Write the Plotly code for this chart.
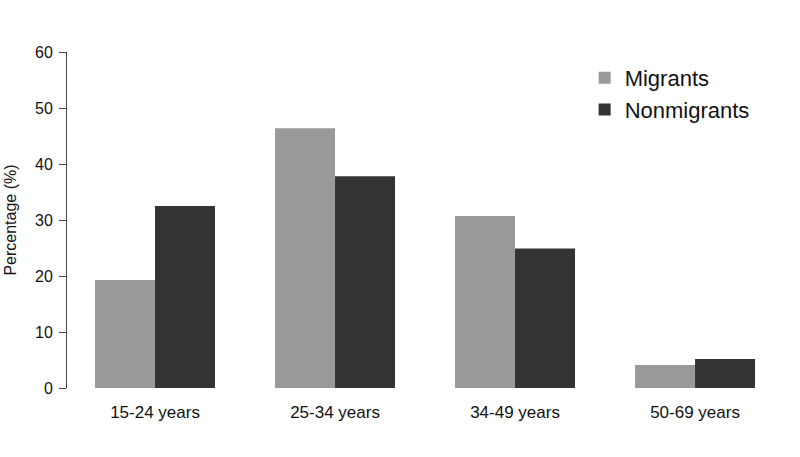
import plotly.graph_objects as go

categories = ["15-24 years", "25-34 years", "34-49 years", "50-69 years"]
migrants = [19.3, 46.4, 30.7, 4.1]
nonmigrants = [32.5, 37.8, 24.9, 5.2]
y_ticks = [0, 10, 20, 30, 40, 50, 60]

FONT = "Liberation Sans, Arial, sans-serif"

fig = go.Figure()
fig.add_trace(go.Bar(x=categories, y=migrants, name="Migrants",
                     marker=dict(color="#999999", line=dict(width=0)),
                     legendgroup="a"))
fig.add_trace(go.Bar(x=categories, y=nonmigrants, name="Nonmigrants",
                     marker=dict(color="#333333", line=dict(width=0)),
                     legendgroup="b"))

fig.update_layout(
    width=800, height=457,
    margin=dict(l=67, r=20, t=52, b=69, autoexpand=False),
    paper_bgcolor="white", plot_bgcolor="white",
    barmode="group", bargap=1/3, bargroupgap=0,
    font=dict(family=FONT, color="#111111"),
    showlegend=True,
    legend=dict(x=0.726, y=0.985, xanchor="left", yanchor="top",
                font=dict(size=22, family=FONT, color="#111111"),
                bgcolor="rgba(0,0,0,0)", tracegroupgap=0),
    xaxis=dict(range=[-0.489, 3.472], showline=False, showgrid=False,
               ticks="", tickfont=dict(size=17), ticklabelstandoff=12,
               zeroline=False, automargin=False),
    yaxis=dict(range=[0, 60], tickvals=y_ticks, showgrid=False, zeroline=False,
               showline=True, linecolor="#444444", linewidth=1,
               ticks="outside", ticklen=7, tickcolor="#444444",
               tickfont=dict(size=16), ticklabelstandoff=3, automargin=False,
               title=dict(text="Percentage (%)", font=dict(size=16), standoff=14)),
)

fig.write_html("out.html")
